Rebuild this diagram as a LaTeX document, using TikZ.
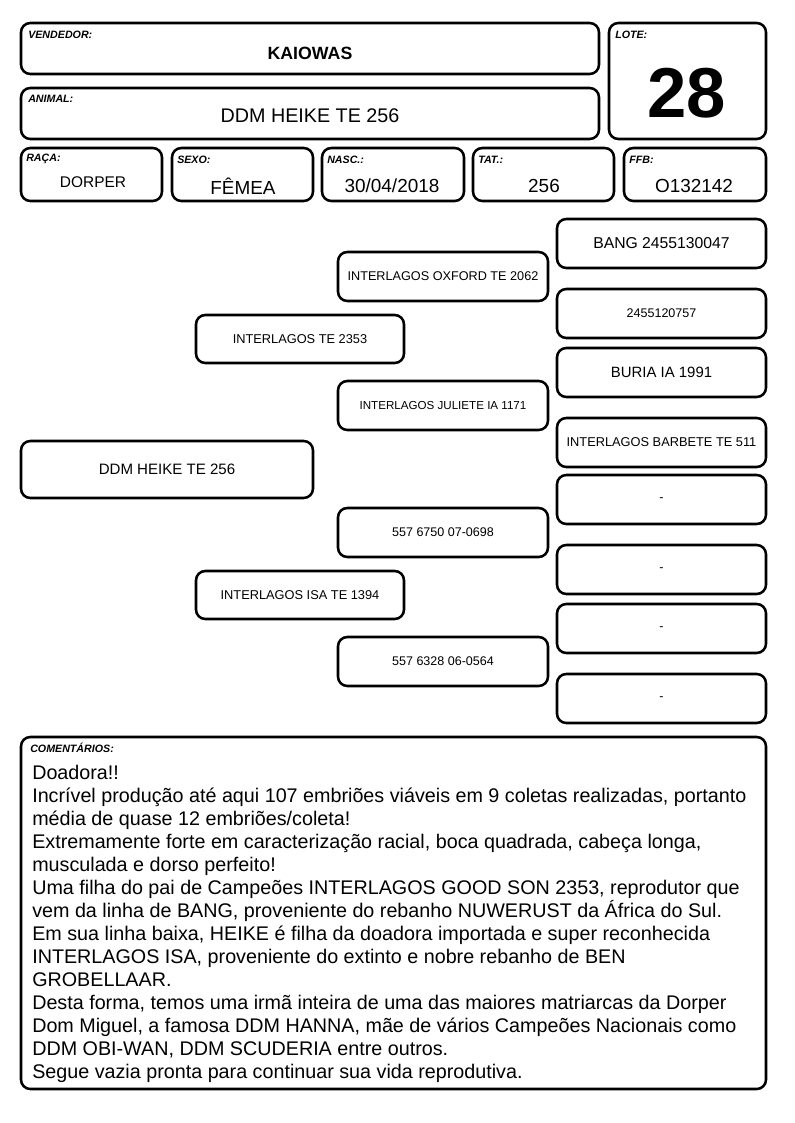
\documentclass[tikz,border=0pt]{standalone}
\usepackage{fontspec}
\setmainfont{Liberation Sans}
\begin{document}
\begin{tikzpicture}[x=0.75pt,y=-0.75pt,
  box/.style={draw, line width=1.9pt, rounded corners=7pt, inner sep=0pt, align=center},
  lab/.style={font=\fontsize{8}{9}\selectfont\bfseries\itshape, anchor=west, inner sep=0pt},
  val/.style={inner sep=0pt, font=\fontsize{14.2}{16}\selectfont}]
\newcommand\Bx[6]{\node[box, minimum width={(#4-#2)*0.75pt}, minimum height={(#5-#3)*0.75pt}] (#1) at ({(#2+#4)/2},{(#3+#5)/2}) {#6};}
\useasboundingbox[fill=white] (0,0) rectangle (794,1123);
% header
\Bx{vend}{21}{23}{599}{74}{}
\Bx{anim}{21}{88}{599}{139}{}
\Bx{lote}{609}{23}{766}{139}{}
\Bx{raca}{21}{148}{162}{201}{}
\Bx{sexo}{172}{148}{313}{201}{}
\Bx{nasc}{322}{148}{464}{201}{}
\Bx{tat}{473}{148}{614}{201}{}
\Bx{ffb}{624}{148}{766}{201}{}
\node[lab] (lvend) at (28,35) {VENDEDOR:};
\node[lab] (lanim) at (28,99) {ANIMAL:};
\node[lab] (llote) at (615,35) {LOTE:};
\node[lab] (lraca) at (26,159) {RAÇA:};
\node[lab] (lsexo) at (177,160) {SEXO:};
\node[lab] (lnasc) at (327,160) {NASC.:};
\node[lab] (ltat) at (478,160) {TAT.:};
\node[lab] (lffb) at (629,160) {FFB:};
\node[inner sep=0pt, font=\fontsize{13.3}{15}\selectfont\bfseries] (tvend) at (310,53) {KAIOWAS};
\node[inner sep=0pt, font=\fontsize{14.8}{17}\selectfont] (tanim) at (310,116) {DDM HEIKE TE 256};
\node[inner sep=0pt, font=\fontsize{53}{60}\selectfont\bfseries] (tlote) at (687,93) {28};
\node[inner sep=0pt, font=\fontsize{11.6}{13}\selectfont] (traca) at (93,182) {DORPER};
\node[val] (tsexo) at (243,186) {FÊMEA};
\node[val] (tnasc) at (392,186) {30/04/2018};
\node[val] (ttat) at (544,186) {256};
\node[val] (tffb) at (694,186) {O132142};
% pedigree
\Bx{g0}{21}{441}{313}{498}{\fontsize{11.3}{13}\selectfont DDM HEIKE TE 256}
\Bx{s}{196}{315}{404}{363}{\fontsize{9.6}{11}\selectfont INTERLAGOS TE 2353}
\Bx{d}{196}{571}{404}{619}{\fontsize{9.6}{11}\selectfont INTERLAGOS ISA TE 1394}
\Bx{ss}{338}{252}{548}{301}{\fontsize{9.5}{11}\selectfont INTERLAGOS OXFORD TE 2062}
\Bx{sd}{338}{381}{548}{430}{\fontsize{8.7}{10}\selectfont INTERLAGOS JULIETE IA 1171}
\Bx{ds}{338}{508}{548}{557}{\fontsize{9.4}{11}\selectfont 557 6750 07-0698}
\Bx{dd}{338}{637}{548}{686}{\fontsize{9.4}{11}\selectfont 557 6328 06-0564}
\Bx{sss}{557}{219}{766}{268}{\fontsize{11.8}{13}\selectfont BANG 2455130047}
\Bx{ssd}{557}{289}{766}{338}{\fontsize{9.4}{11}\selectfont 2455120757}
\Bx{sds}{557}{348}{766}{397}{\fontsize{11.2}{13}\selectfont BURIA IA 1991}
\Bx{sdd}{557}{418}{766}{467}{\fontsize{9.6}{11}\selectfont INTERLAGOS BARBETE TE 511}
\Bx{dss}{557}{475}{766}{524}{\fontsize{9.4}{11}\selectfont -}
\Bx{dsd}{557}{545}{766}{594}{\fontsize{9.4}{11}\selectfont -}
\Bx{dds}{557}{604}{766}{653}{\fontsize{9.4}{11}\selectfont -}
\Bx{ddd}{557}{674}{766}{723}{\fontsize{9.4}{11}\selectfont -}
% comments
\Bx{com}{21}{737}{766}{1089}{}
\node[lab] (lcom) at (30,748) {COMENTÁRIOS:};
\node[anchor=north west, inner sep=0pt, align=left, font=\fontsize{14.8}{17.25}\selectfont] (tcom) at (32,765) {Doadora!!\\
Incrível produção até aqui 107 embriões viáveis em 9 coletas realizadas, portanto\\
média de quase 12 embriões/coleta!\\
Extremamente forte em caracterização racial, boca quadrada, cabeça longa,\\
musculada e dorso perfeito!\\
Uma filha do pai de Campeões INTERLAGOS GOOD SON 2353, reprodutor que\\
vem da linha de BANG, proveniente do rebanho NUWERUST da África do Sul.\\
Em sua linha baixa, HEIKE é filha da doadora importada e super reconhecida\\
INTERLAGOS ISA, proveniente do extinto e nobre rebanho de BEN\\
GROBELLAAR.\\
Desta forma, temos uma irmã inteira de uma das maiores matriarcas da Dorper\\
Dom Miguel, a famosa DDM HANNA, mãe de vários Campeões Nacionais como\\
DDM OBI-WAN, DDM SCUDERIA entre outros.\\
Segue vazia pronta para continuar sua vida reprodutiva.};
\end{tikzpicture}
\end{document}
